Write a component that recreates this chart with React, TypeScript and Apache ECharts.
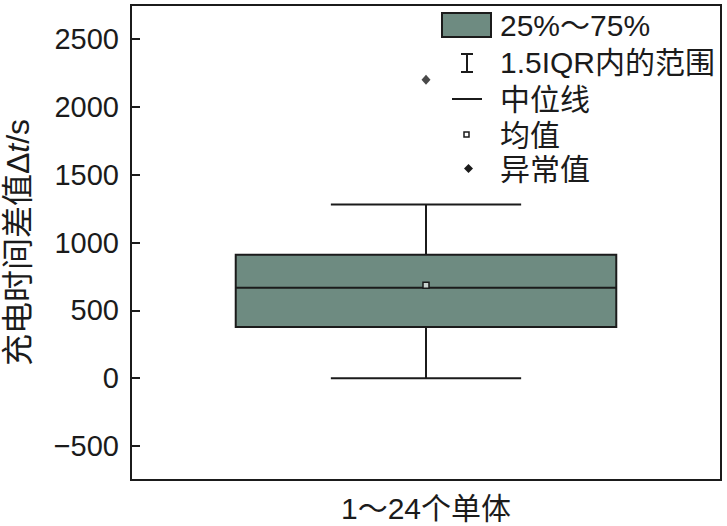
import React, { useEffect, useRef } from "react";
import * as echarts from "echarts";

const categories = ["1～24个单体"];
const whiskerLow = [0];
const q1 = [378];
const median = [667];
const q3 = [910];
const whiskerHigh = [1280];
const mean = [685];
const outliers = [2200];

const legendLabels = ["25%～75%", "1.5IQR内的范围", "中位线", "均值", "异常值"];

const INK = "#1b1b1b";
const BOX = "#6e8b81";
const FONT = "'Liberation Sans', Arial, 'Noto Sans CJK SC', sans-serif";

export default function App() {
  const ref = useRef<HTMLDivElement>(null);
  useEffect(() => {
    if (!ref.current) return;
    const chart = echarts.init(ref.current, null, { renderer: "svg" });
    const boxData = categories.map((_, i) => [i, whiskerLow[i], q1[i], median[i], q3[i], whiskerHigh[i], mean[i]]);
    const outlierData = outliers.map((v) => [0, v]);
    const rowY = [25, 62, 99, 135, 169];
    const textX = 500;
    const legendTexts = legendLabels.map((t, i) => ({
      type: "text",
      x: textX,
      y: rowY[i],
      style: { text: t, fill: INK, font: `30px ${FONT}`, verticalAlign: "middle", align: "left" },
    }));
    const option: any = {
      animation: false,
      backgroundColor: "#ffffff",
      grid: {
        left: 131,
        top: 5,
        width: 590,
        height: 475,
        containLabel: false,
        outerBoundsMode: "none",
        show: true,
        borderColor: INK,
        borderWidth: 2,
        backgroundColor: "transparent",
      },
      xAxis: {
        type: "category",
        data: categories,
        boundaryGap: true,
        axisLine: { onZero: false, lineStyle: { color: INK, width: 2 } },
        axisTick: { inside: true, length: 9, alignWithLabel: true, lineStyle: { color: INK, width: 2 } },
        axisLabel: { color: INK, fontSize: 30, fontFamily: FONT, margin: 13 },
        splitLine: { show: false },
      },
      yAxis: {
        type: "value",
        min: -750,
        max: 2750,
        splitNumber: 7,
        axisLine: { show: true, onZero: false, lineStyle: { color: INK, width: 2 } },
        axisTick: { show: true, inside: true, length: 9, lineStyle: { color: INK, width: 2 } },
        axisLabel: {
          color: INK,
          fontSize: 29,
          fontFamily: FONT,
          margin: 12,
          showMinLabel: false,
          showMaxLabel: false,
          formatter: (v: number) => (v < 0 ? "−" + Math.abs(v) : String(v)),
        },
        splitLine: { show: false },
        name: "充电时间差值Δ{i|t}/s",
        nameLocation: "middle",
        nameGap: 97,
        nameTextStyle: {
          color: INK,
          fontSize: 32,
          fontFamily: FONT,
          rich: { i: { fontStyle: "italic", fontSize: 32, fontFamily: FONT, color: INK } },
        },
      },
      series: [
        {
          type: "custom",
          data: boxData,
          encode: { x: 0, y: [1, 2, 3, 4, 5, 6] },
          renderItem: (params: any, api: any) => {
            const xi = api.value(0);
            const pLow = api.coord([xi, api.value(1)]);
            const pQ1 = api.coord([xi, api.value(2)]);
            const pMed = api.coord([xi, api.value(3)]);
            const pQ3 = api.coord([xi, api.value(4)]);
            const pHigh = api.coord([xi, api.value(5)]);
            const pMean = api.coord([xi, api.value(6)]);
            const band = api.size([1, 0])[0];
            const bw = band * 0.645;
            const cw = bw / 2;
            const cx = pMed[0];
            const ls = { stroke: INK, lineWidth: 2 };
            return {
              type: "group",
              children: [
                { type: "line", shape: { x1: cx, y1: pHigh[1], x2: cx, y2: pQ3[1] }, style: ls },
                { type: "line", shape: { x1: cx, y1: pQ1[1], x2: cx, y2: pLow[1] }, style: ls },
                { type: "line", shape: { x1: cx - cw / 2, y1: pHigh[1], x2: cx + cw / 2, y2: pHigh[1] }, style: ls },
                { type: "line", shape: { x1: cx - cw / 2, y1: pLow[1], x2: cx + cw / 2, y2: pLow[1] }, style: ls },
                {
                  type: "rect",
                  shape: { x: cx - bw / 2, y: pQ3[1], width: bw, height: pQ1[1] - pQ3[1] },
                  style: { fill: BOX, stroke: INK, lineWidth: 2 },
                },
                { type: "line", shape: { x1: cx - bw / 2, y1: pMed[1], x2: cx + bw / 2, y2: pMed[1] }, style: ls },
                {
                  type: "rect",
                  shape: { x: pMean[0] - 3, y: pMean[1] - 3, width: 6, height: 6 },
                  style: { fill: "#c9d3cf", stroke: INK, lineWidth: 1.5 },
                },
              ],
            };
          },
          z: 2,
        },
        {
          type: "scatter",
          data: outlierData,
          symbol: "diamond",
          symbolSize: [9, 10],
          itemStyle: { color: INK },
          z: 3,
        },
      ],
      graphic: [
        { type: "rect", shape: { x: 442, y: 13, width: 49, height: 24 }, style: { fill: BOX, stroke: INK, lineWidth: 2 } },
        { type: "line", shape: { x1: 467, y1: 54, x2: 467, y2: 72 }, style: { stroke: INK, lineWidth: 2 } },
        { type: "line", shape: { x1: 461, y1: 54, x2: 473, y2: 54 }, style: { stroke: INK, lineWidth: 2 } },
        { type: "line", shape: { x1: 461, y1: 72, x2: 473, y2: 72 }, style: { stroke: INK, lineWidth: 2 } },
        { type: "line", shape: { x1: 452, y1: 99, x2: 482, y2: 99 }, style: { stroke: INK, lineWidth: 2 } },
        { type: "rect", shape: { x: 464, y: 132, width: 5, height: 5 }, style: { fill: "#ffffff", stroke: INK, lineWidth: 1.5 } },
        { type: "polygon", shape: { points: [[468.5, 164], [473, 168.5], [468.5, 173], [464, 168.5]] }, style: { fill: INK } },
        ...legendTexts,
      ],
    };
    chart.setOption(option);
    return () => chart.dispose();
  }, []);
  return <div ref={ref} style={{ position: "fixed", left: 0, top: 0, width: 727, height: 526, background: "#fff" }} />;
}
